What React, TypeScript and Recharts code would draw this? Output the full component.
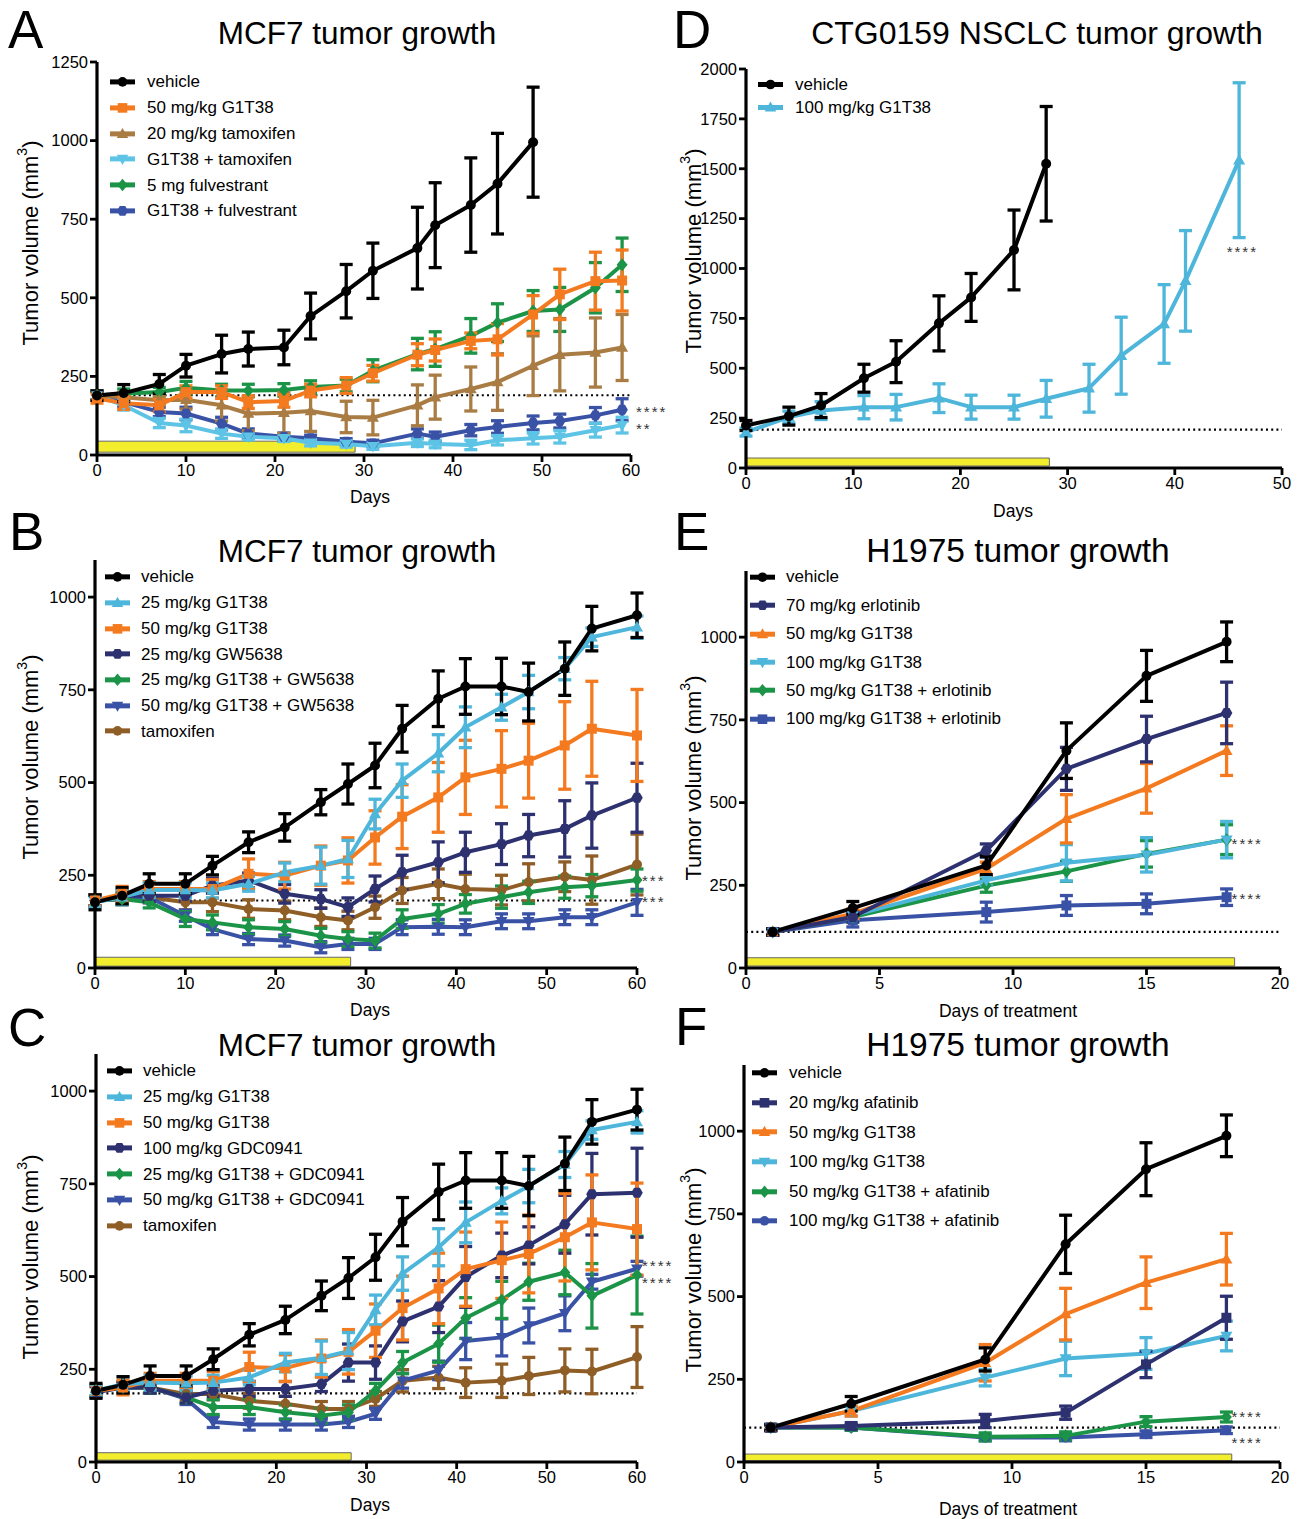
import React from 'react';
import { LineChart, Line, XAxis, YAxis, ErrorBar, ReferenceLine, ReferenceArea, ReferenceDot, Legend } from 'recharts';

const FONT = '"Liberation Sans", Arial, Helvetica, sans-serif';

// ---------- colours ----------
const BLACK = '#000000';
const ORANGE = '#f47a20';
const CYAN = '#4db6da';
const CYAN_A = '#5ec4e6';
const GREEN = '#1c9447';
const NAVY = '#2d3170';
const BLUE = '#3a52a5';
const BROWN_A = '#a97c44';
const BROWN = '#8f5e26';

// ---------- Panel A: MCF7 ----------
const daysA = [0, 3, 7, 10, 14, 17, 21, 24, 28, 31, 36, 38, 42, 45, 49, 52, 56, 59];
const daysAVeh = [0, 3, 7, 10, 14, 17, 21, 24, 28, 31, 36, 38, 42, 45, 49];
const vehA = [189, 197, 226, 284, 321, 337, 342, 442, 521, 586, 658, 731, 795, 863, 995];
const vehAErr = [15, 27, 30, 36, 60, 54, 55, 73, 85, 88, 130, 135, 150, 160, 175];
const orangeA = [180, 165, 158, 200, 200, 168, 172, 205, 221, 260, 319, 334, 363, 368, 447, 511, 553, 555];
const orangeAErr = [15, 20, 20, 20, 20, 20, 20, 20, 25, 25, 35, 35, 25, 50, 60, 80, 92, 97];
const brownA = [189, 184, 174, 176, 158, 132, 134, 140, 121, 119, 158, 184, 210, 232, 284, 319, 326, 342];
const brownAErr = [15, 15, 15, 30, 50, 55, 65, 65, 50, 55, 65, 70, 70, 90, 95, 115, 110, 105];
const cyanA = [189, 158, 102, 94, 68, 58, 53, 39, 35, 28, 39, 35, 32, 47, 53, 58, 79, 95];
const cyanAErr = [15, 15, 15, 20, 15, 10, 10, 10, 10, 10, 12, 12, 15, 15, 18, 20, 22, 25];
const greenA = [189, 195, 200, 214, 205, 205, 207, 216, 221, 268, 321, 337, 379, 421, 458, 463, 532, 605];
const greenAErr = [15, 15, 15, 20, 20, 20, 20, 20, 20, 35, 50, 55, 55, 60, 65, 70, 80, 85];
const blueA = [189, 168, 137, 132, 100, 68, 58, 53, 42, 37, 68, 58, 79, 89, 102, 108, 126, 144];
const blueAErr = [15, 15, 15, 20, 20, 15, 12, 10, 10, 10, 15, 15, 18, 20, 22, 22, 25, 35];

// ---------- Panel D: CTG0159 ----------
const daysDVeh = [0, 4, 7, 11, 14, 18, 21, 25, 28];
const vehD = [213, 260, 313, 450, 533, 725, 855, 1093, 1525];
const vehDErr = [25, 45, 60, 70, 105, 138, 120, 200, 287];
const daysDCyan = [0, 4, 7, 11, 14, 18, 21, 25, 28, 32, 35, 39, 41, 46];
const cyanD = [180, 255, 288, 305, 305, 350, 305, 305, 347, 400, 563, 722, 938, 1543];
const cyanDErr = [20, 30, 45, 58, 64, 72, 60, 60, 92, 120, 193, 197, 252, 388];

// ---------- Panel B: MCF7 + GW5638 ----------
const daysB = [0, 3, 6, 10, 13, 17, 21, 25, 28, 31, 34, 38, 41, 45, 48, 52, 55, 60];
const vehB = [177, 195, 227, 227, 276, 339, 379, 447, 496, 546, 645, 726, 759, 759, 744, 807, 915, 951];
const vehBErr = [20, 22, 27, 27, 25, 28, 37, 34, 54, 60, 63, 75, 75, 76, 78, 72, 60, 60];
const cyanB = [177, 191, 210, 210, 209, 227, 258, 276, 294, 415, 505, 579, 649, 703, 744, 807, 892, 919];
const cyanBErr = [15, 20, 20, 20, 20, 20, 25, 50, 50, 40, 45, 50, 55, 35, 45, 30, 25, 30];
const orangeB = [182, 200, 213, 213, 213, 254, 249, 276, 290, 352, 408, 460, 514, 537, 559, 600, 645, 627];
const orangeBErr = [15, 20, 20, 20, 25, 40, 36, 53, 61, 72, 86, 94, 100, 103, 101, 118, 128, 124];
const navyB = [182, 195, 195, 195, 222, 236, 200, 186, 164, 213, 258, 285, 312, 334, 357, 375, 411, 459];
const navyBErr = [15, 15, 15, 15, 20, 20, 25, 25, 25, 35, 46, 55, 54, 55, 57, 76, 88, 93];
const greenB = [182, 186, 177, 132, 123, 110, 105, 87, 78, 74, 132, 146, 173, 191, 204, 218, 222, 237];
const greenBErr = [15, 15, 15, 20, 20, 20, 20, 20, 20, 20, 25, 25, 25, 30, 30, 30, 30, 30];
const blueB = [182, 186, 191, 141, 105, 78, 74, 56, 65, 65, 110, 111, 110, 126, 126, 137, 137, 177];
const blueBErr = [15, 15, 15, 15, 15, 15, 15, 15, 15, 15, 20, 20, 20, 20, 20, 20, 20, 35];
const brownB = [182, 186, 191, 177, 177, 159, 155, 137, 128, 164, 209, 227, 213, 210, 231, 246, 237, 279];
const brownBErr = [15, 15, 15, 20, 25, 25, 25, 25, 25, 30, 35, 40, 40, 40, 50, 40, 65, 82];

// ---------- Panel E: H1975 + erlotinib ----------
const daysE = [1, 4, 9, 12, 15, 18];
const vehE = [109, 181, 310, 657, 883, 986];
const vehEErr = [10, 20, 28, 84, 77, 60];
const navyE = [109, 154, 355, 602, 692, 771];
const navyEErr = [10, 15, 20, 65, 69, 93];
const orangeE = [109, 164, 300, 451, 543, 657];
const orangeEErr = [10, 15, 20, 73, 75, 75];
const cyanE = [109, 159, 265, 318, 342, 388];
const cyanEErr = [10, 15, 15, 55, 52, 55];
const greenE = [109, 154, 249, 292, 345, 388];
const greenEErr = [10, 15, 20, 30, 40, 45];
const blueE = [109, 144, 169, 189, 194, 214];
const blueEErr = [10, 20, 30, 30, 30, 25];

// ---------- Panel C: MCF7 + GDC0941 ----------
const daysC = [0, 3, 6, 10, 13, 17, 21, 25, 28, 31, 34, 38, 41, 45, 48, 52, 55, 60];
const vehC = [192, 208, 232, 232, 277, 343, 383, 448, 496, 552, 648, 728, 759, 759, 744, 804, 917, 950];
const vehCErr = [20, 22, 27, 27, 28, 30, 37, 40, 55, 62, 65, 75, 75, 75, 80, 72, 60, 55];
const cyanC = [192, 210, 214, 212, 214, 228, 268, 281, 299, 410, 508, 579, 646, 704, 744, 802, 895, 917];
const cyanCErr = [15, 20, 20, 20, 20, 20, 25, 45, 50, 40, 45, 50, 55, 35, 45, 35, 25, 30];
const orangeC = [192, 201, 219, 219, 219, 256, 253, 279, 297, 354, 415, 468, 520, 544, 561, 606, 646, 628];
const orangeCErr = [15, 20, 20, 20, 25, 40, 36, 50, 60, 72, 86, 95, 100, 103, 105, 118, 128, 124];
const navyC = [188, 201, 201, 174, 192, 197, 197, 210, 268, 268, 379, 419, 499, 557, 584, 641, 722, 726];
const navyCErr = [15, 15, 15, 15, 15, 20, 20, 20, 50, 45, 55, 70, 82, 60, 50, 78, 110, 120];
const greenC = [192, 201, 201, 174, 148, 148, 134, 125, 134, 192, 268, 319, 388, 437, 486, 511, 448, 504];
const greenCErr = [15, 15, 15, 15, 20, 20, 20, 20, 20, 20, 30, 50, 55, 50, 50, 60, 87, 105];
const blueC = [192, 201, 201, 170, 108, 101, 101, 101, 108, 130, 219, 247, 326, 336, 368, 401, 486, 521];
const blueCErr = [15, 15, 15, 15, 15, 15, 15, 15, 15, 15, 20, 25, 50, 50, 47, 47, 20, 20];
const brownC = [192, 201, 201, 183, 183, 165, 157, 143, 143, 170, 219, 228, 214, 219, 232, 247, 244, 283];
const brownCErr = [15, 15, 15, 15, 15, 20, 20, 20, 20, 20, 30, 30, 40, 45, 50, 58, 60, 82];

// ---------- Panel F: H1975 + afatinib ----------
const daysF = [1, 4, 9, 12, 15, 18];
const vehF = [104, 176, 310, 658, 885, 986];
const vehFErr = [10, 22, 35, 88, 80, 63];
const navyF = [104, 109, 124, 149, 295, 436];
const navyFErr = [8, 10, 20, 20, 40, 65];
const orangeF = [104, 154, 300, 447, 542, 613];
const orangeFErr = [8, 15, 55, 78, 78, 78];
const cyanF = [104, 154, 255, 313, 328, 381];
const cyanFErr = [8, 15, 25, 52, 48, 45];
const greenF = [104, 104, 76, 79, 122, 136];
const greenFErr = [8, 8, 12, 12, 15, 15];
const blueF = [104, 104, 74, 74, 84, 96];
const blueFErr = [8, 8, 10, 10, 10, 10];

// ---------- axis ticks ----------
const ticks60 = [0, 10, 20, 30, 40, 50, 60];
const ticks50 = [0, 10, 20, 30, 40, 50];
const ticks20 = [0, 5, 10, 15, 20];
const yTicks1250 = [0, 250, 500, 750, 1000, 1250];
const yTicks2000 = [0, 250, 500, 750, 1000, 1250, 1500, 1750, 2000];
const yTicks1000 = [0, 250, 500, 750, 1000];

type Shape = 'circle' | 'square' | 'triangle' | 'tridown' | 'diamond' | 'hexagon';
interface S { name: string; color: string; shape: Shape; days: number[]; vals: number[]; errs: number[] }
interface Star { x: number; y: number; text: string; pos: 'right' | 'center' }
interface P {
  id: string; plotLeft: number; plotTop: number; plotW: number; plotH: number;
  xMax: number; xTicks: number[]; yMax: number; yTicks: number[];
  series: S[]; baseline: number; bar: [number, number, number, number];
  stars: Star[];
  legend: { symLeft: number; textLeft: number; firstY: number; rowH: number };
}

const mk = (name: string, color: string, shape: Shape, days: number[], vals: number[], errs: number[]): S =>
  ({ name, color, shape, days, vals, errs });

const panels: P[] = [
  {
    id: 'A', plotLeft: 97, plotTop: 62, plotW: 534, plotH: 393,
    xMax: 60, xTicks: ticks60, yMax: 1250, yTicks: yTicks1250,
    series: [
      mk('vehicle', BLACK, 'circle', daysAVeh, vehA, vehAErr),
      mk('50 mg/kg G1T38', ORANGE, 'square', daysA, orangeA, orangeAErr),
      mk('20 mg/kg tamoxifen', BROWN_A, 'triangle', daysA, brownA, brownAErr),
      mk('G1T38 + tamoxifen', CYAN_A, 'tridown', daysA, cyanA, cyanAErr),
      mk('5 mg fulvestrant', GREEN, 'diamond', daysA, greenA, greenAErr),
      mk('G1T38 + fulvestrant', BLUE, 'hexagon', daysA, blueA, blueAErr),
    ],
    baseline: 190, bar: [0, 29, 9, 44],
    stars: [{ x: 60, y: 150, text: '****', pos: 'right' }, { x: 60, y: 96, text: '**', pos: 'right' }],
    legend: { symLeft: 110, textLeft: 147, firstY: 82, rowH: 25.8 },
  },
  {
    id: 'D', plotLeft: 746, plotTop: 69, plotW: 536, plotH: 399,
    xMax: 50, xTicks: ticks50, yMax: 2000, yTicks: yTicks2000,
    series: [
      mk('vehicle', BLACK, 'circle', daysDVeh, vehD, vehDErr),
      mk('100 mg/kg G1T38', CYAN, 'triangle', daysDCyan, cyanD, cyanDErr),
    ],
    baseline: 192, bar: [0, 28.3, 10, 50],
    stars: [{ x: 46.3, y: 1100, text: '****', pos: 'center' }],
    legend: { symLeft: 758, textLeft: 795, firstY: 84, rowH: 23 },
  },
  {
    id: 'B', plotLeft: 95, plotTop: 560, plotW: 542, plotH: 408,
    xMax: 60, xTicks: ticks60, yMax: 1100, yTicks: yTicks1000,
    series: [
      mk('vehicle', BLACK, 'circle', daysB, vehB, vehBErr),
      mk('25 mg/kg G1T38', CYAN, 'triangle', daysB, cyanB, cyanBErr),
      mk('50 mg/kg G1T38', ORANGE, 'square', daysB, orangeB, orangeBErr),
      mk('25 mg/kg GW5638', NAVY, 'hexagon', daysB, navyB, navyBErr),
      mk('25 mg/kg G1T38 + GW5638', GREEN, 'diamond', daysB, greenB, greenBErr),
      mk('50 mg/kg G1T38 + GW5638', BLUE, 'tridown', daysB, blueB, blueBErr),
      mk('tamoxifen', BROWN, 'circle', daysB, brownB, brownBErr),
    ],
    baseline: 182, bar: [0, 28.3, 5, 29],
    stars: [{ x: 60, y: 246, text: '***', pos: 'right' }, { x: 60, y: 189, text: '***', pos: 'right' }],
    legend: { symLeft: 105, textLeft: 141, firstY: 577, rowH: 25.7 },
  },
  {
    id: 'E', plotLeft: 746, plotTop: 571, plotW: 534, plotH: 397,
    xMax: 20, xTicks: ticks20, yMax: 1200, yTicks: yTicks1000,
    series: [
      mk('vehicle', BLACK, 'circle', daysE, vehE, vehEErr),
      mk('70 mg/kg erlotinib', NAVY, 'hexagon', daysE, navyE, navyEErr),
      mk('50 mg/kg G1T38', ORANGE, 'triangle', daysE, orangeE, orangeEErr),
      mk('100 mg/kg G1T38', CYAN, 'tridown', daysE, cyanE, cyanEErr),
      mk('50 mg/kg G1T38 + erlotinib', GREEN, 'diamond', daysE, greenE, greenEErr),
      mk('100 mg/kg G1T38 + erlotinib', BLUE, 'square', daysE, blueE, blueEErr),
    ],
    baseline: 109, bar: [0, 18.3, 6, 31],
    stars: [{ x: 18, y: 385, text: '****', pos: 'right' }, { x: 18, y: 219, text: '****', pos: 'right' }],
    legend: { symLeft: 750, textLeft: 786, firstY: 577, rowH: 28.4 },
  },
  {
    id: 'C', plotLeft: 96, plotTop: 1054, plotW: 541, plotH: 408,
    xMax: 60, xTicks: ticks60, yMax: 1100, yTicks: yTicks1000,
    series: [
      mk('vehicle', BLACK, 'circle', daysC, vehC, vehCErr),
      mk('25 mg/kg G1T38', CYAN, 'triangle', daysC, cyanC, cyanCErr),
      mk('50 mg/kg G1T38', ORANGE, 'square', daysC, orangeC, orangeCErr),
      mk('100 mg/kg GDC0941', NAVY, 'hexagon', daysC, navyC, navyCErr),
      mk('25 mg/kg G1T38 + GDC0941', GREEN, 'diamond', daysC, greenC, greenCErr),
      mk('50 mg/kg G1T38 + GDC0941', BLUE, 'tridown', daysC, blueC, blueCErr),
      mk('tamoxifen', BROWN, 'circle', daysC, brownC, brownCErr),
    ],
    baseline: 185, bar: [0, 28.3, 5, 25],
    stars: [{ x: 60, y: 538, text: '****', pos: 'right' }, { x: 60, y: 492, text: '****', pos: 'right' }],
    legend: { symLeft: 107, textLeft: 143, firstY: 1071, rowH: 25.8 },
  },
  {
    id: 'F', plotLeft: 744, plotTop: 1065, plotW: 536, plotH: 397,
    xMax: 20, xTicks: ticks20, yMax: 1200, yTicks: yTicks1000,
    series: [
      mk('vehicle', BLACK, 'circle', daysF, vehF, vehFErr),
      mk('20 mg/kg afatinib', NAVY, 'square', daysF, navyF, navyFErr),
      mk('50 mg/kg G1T38', ORANGE, 'triangle', daysF, orangeF, orangeFErr),
      mk('100 mg/kg G1T38', CYAN, 'tridown', daysF, cyanF, cyanFErr),
      mk('50 mg/kg G1T38 + afatinib', GREEN, 'diamond', daysF, greenF, greenFErr),
      mk('100 mg/kg G1T38 + afatinib', BLUE, 'circle', daysF, blueF, blueFErr),
    ],
    baseline: 104, bar: [0, 18.2, 4, 24],
    stars: [{ x: 18, y: 148, text: '****', pos: 'right' }, { x: 18, y: 70, text: '****', pos: 'right' }],
    legend: { symLeft: 752, textLeft: 789, firstY: 1073, rowH: 29.6 },
  },
];

// ---------- overlay text ----------
const letters = [
  { t: 'A', x: 8, y: 48 }, { t: 'D', x: 673, y: 48 },
  { t: 'B', x: 9, y: 550 }, { t: 'E', x: 674, y: 550 },
  { t: 'C', x: 8, y: 1046 }, { t: 'F', x: 675, y: 1045 },
];
const titles = [
  { t: 'MCF7 tumor growth', x: 357, y: 44, fs: 31.5 },
  { t: 'CTG0159 NSCLC tumor growth', x: 1037, y: 44, fs: 32 },
  { t: 'MCF7 tumor growth', x: 357, y: 562, fs: 31.5 },
  { t: 'H1975 tumor growth', x: 1018, y: 562, fs: 33.5 },
  { t: 'MCF7 tumor growth', x: 357, y: 1056, fs: 31.5 },
  { t: 'H1975 tumor growth', x: 1018, y: 1056, fs: 33.5 },
];
const xTitles = [
  { t: 'Days', x: 370, y: 503 },
  { t: 'Days', x: 1013, y: 517 },
  { t: 'Days', x: 370, y: 1016 },
  { t: 'Days of treatment', x: 1008, y: 1017 },
  { t: 'Days', x: 370, y: 1511 },
  { t: 'Days of treatment', x: 1008, y: 1515 },
];
const yTitles = [
  { x: 30, y: 243 }, { x: 693, y: 251 },
  { x: 30, y: 757 }, { x: 693, y: 778 },
  { x: 30, y: 1257 }, { x: 693, y: 1270 },
];

function Marker({ cx, cy, shape, color, s = 5 }: { cx: number; cy: number; shape: Shape; color: string; s?: number }) {
  if (cx == null || cy == null || isNaN(cx) || isNaN(cy)) return null;
  switch (shape) {
    case 'square':
      return <rect x={cx - s} y={cy - s} width={2 * s} height={2 * s} fill={color} />;
    case 'triangle':
      return <polygon points={`${cx},${cy - s * 1.25} ${cx - s * 1.2},${cy + s * 0.85} ${cx + s * 1.2},${cy + s * 0.85}`} fill={color} />;
    case 'tridown':
      return <polygon points={`${cx},${cy + s * 1.25} ${cx - s * 1.2},${cy - s * 0.85} ${cx + s * 1.2},${cy - s * 0.85}`} fill={color} />;
    case 'diamond':
      return <polygon points={`${cx},${cy - s * 1.3} ${cx + s * 1.1},${cy} ${cx},${cy + s * 1.3} ${cx - s * 1.1},${cy}`} fill={color} />;
    case 'hexagon': {
      const pts: string[] = [];
      for (let i = 0; i < 6; i++) {
        const a = (Math.PI / 3) * i;
        pts.push(`${cx + s * 1.15 * Math.cos(a)},${cy + s * 1.15 * Math.sin(a)}`);
      }
      return <polygon points={pts.join(' ')} fill={color} />;
    }
    default:
      return <circle cx={cx} cy={cy} r={s} fill={color} />;
  }
}

function Panel({ cfg }: { cfg: P }) {
  const yw = 60, mt = 12, mr = 55, xh = 30;
  const left = cfg.plotLeft - yw;
  const top = cfg.plotTop - mt;
  const width = yw + cfg.plotW + mr;
  const height = mt + cfg.plotH + xh;
  const lg = cfg.legend;
  const symW = lg.textLeft - lg.symLeft;

  const legendContent = () => (
    <div style={{ fontFamily: FONT, fontSize: 17, color: '#000', lineHeight: 1 }}>
      {cfg.series.map((s) => (
        <div key={s.name} style={{ height: lg.rowH, display: 'flex', alignItems: 'center', whiteSpace: 'nowrap' }}>
          <svg width={symW} height={lg.rowH} style={{ display: 'block', flex: 'none' }}>
            <line x1={0} x2={25} y1={lg.rowH / 2} y2={lg.rowH / 2} stroke={s.color} strokeWidth={5} />
            <Marker cx={12.5} cy={lg.rowH / 2} shape={s.shape} color={s.color} s={4.8} />
          </svg>
          <span>{s.name}</span>
        </div>
      ))}
    </div>
  );

  const axisStyle = { stroke: '#000', strokeWidth: 3.2 };
  const tickStyle = { fill: '#000', fontSize: 16.5, fontFamily: FONT };

  return (
    <div style={{ position: 'absolute', left, top, width, height }}>
      <LineChart width={width} height={height} margin={{ top: mt, right: mr, bottom: 0, left: 0 }}>
        <XAxis
          type="number" dataKey="d" domain={[0, cfg.xMax]} ticks={cfg.xTicks} interval={0}
          height={xh} axisLine={axisStyle} tickLine={{ stroke: '#000', strokeWidth: 2.8 }} tickSize={7}
          tick={tickStyle}
        />
        <YAxis
          type="number" domain={[0, cfg.yMax]} ticks={cfg.yTicks} interval={0}
          width={yw} axisLine={axisStyle} tickLine={{ stroke: '#000', strokeWidth: 2.8 }} tickSize={7}
          tick={tickStyle}
        />
        <ReferenceArea
          x1={cfg.bar[0]} x2={cfg.bar[1]} y1={cfg.bar[2]} y2={cfg.bar[3]}
          fill="#f2ee2e" fillOpacity={1} stroke="#666" strokeWidth={1} ifOverflow="visible"
        />
        <ReferenceLine y={cfg.baseline} stroke="#000" strokeWidth={2.2} strokeDasharray="2 3.2" />
        {[...cfg.series].reverse().map((s) => (
          <Line
            key={s.name}
            name={s.name}
            data={s.days.map((d, i) => ({ d, v: s.vals[i], e: s.errs[i] }))}
            dataKey="v"
            stroke={s.color}
            strokeWidth={4}
            strokeLinejoin="round"
            isAnimationActive={false}
            activeDot={false}
            dot={(p: any) => <Marker key={`${s.name}-${p.index}`} cx={p.cx} cy={p.cy} shape={s.shape} color={s.color} />}
          >
            <ErrorBar dataKey="e" width={6.5} strokeWidth={3.3} stroke={s.color} direction="y" />
          </Line>
        ))}
        {cfg.stars.map((st, i) => (
          <ReferenceDot
            key={`star-${i}`} x={st.x} y={st.y} r={0} fill="none" stroke="none" ifOverflow="visible"
            label={{ value: st.text, position: st.pos, offset: 5, fill: '#333', fontSize: 15, fontFamily: FONT, letterSpacing: 2, dy: 3.5 }}
          />
        ))}
        <Legend
          layout="vertical" align="center" verticalAlign="middle"
          wrapperStyle={{ left: lg.symLeft - left, top: lg.firstY - lg.rowH / 2 - top, width: 'auto', height: 'auto' }}
          content={legendContent}
        />
      </LineChart>
    </div>
  );
}

export default function App() {
  return (
    <div style={{ position: 'absolute', left: 0, top: 0, width: 1302, height: 1519, background: '#fff', overflow: 'hidden', fontFamily: FONT }}>
      {panels.map((p) => <Panel key={p.id} cfg={p} />)}
      <svg width={1302} height={1519} style={{ position: 'absolute', left: 0, top: 0, pointerEvents: 'none' }}>
        {letters.map((l) => (
          <text key={l.t} x={l.x} y={l.y} fontSize={53} fontFamily={FONT} fill="#000">{l.t}</text>
        ))}
        {titles.map((t, i) => (
          <text key={`t${i}`} x={t.x} y={t.y} fontSize={t.fs} fontFamily={FONT} fill="#000" textAnchor="middle">{t.t}</text>
        ))}
        {xTitles.map((t, i) => (
          <text key={`x${i}`} x={t.x} y={t.y} fontSize={17.5} fontFamily={FONT} fill="#000" textAnchor="middle">{t.t}</text>
        ))}
        {yTitles.map((t, i) => (
          <text key={`y${i}`} x={t.x} y={t.y} fontSize={22} fontFamily={FONT} fill="#000" textAnchor="middle"
            dominantBaseline="central" transform={`rotate(-90 ${t.x} ${t.y})`}>
            Tumor volume (mm<tspan baselineShift="super" fontSize={14}>3</tspan>)
          </text>
        ))}
      </svg>
    </div>
  );
}
